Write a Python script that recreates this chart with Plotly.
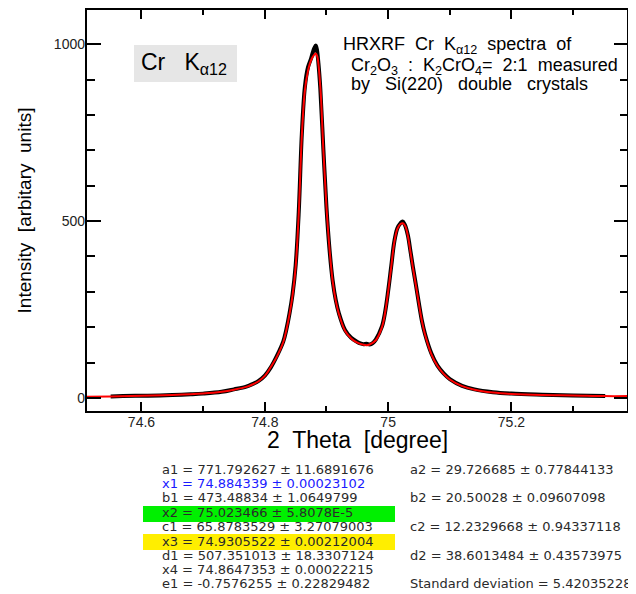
import plotly.graph_objects as go

# ---------------- data ----------------
# measured spectrum (black)
data_x = [74.55, 74.57, 74.60, 74.63, 74.65, 74.68, 74.70, 74.73, 74.75, 74.77,
          74.78, 74.79, 74.80, 74.81, 74.82, 74.83, 74.835, 74.84, 74.845, 74.85,
          74.855, 74.86, 74.865, 74.87, 74.875, 74.878, 74.8805, 74.8826, 74.8845, 74.887,
          74.89, 74.895, 74.90, 74.905, 74.91, 74.915, 74.92, 74.93, 74.94, 74.95,
          74.955, 74.96, 74.965, 74.97, 74.975, 74.98, 74.99, 74.995, 75.00, 75.005,
          75.01, 75.015, 75.02, 75.0235, 75.027, 75.032, 75.036, 75.04, 75.045, 75.05,
          75.055, 75.06, 75.07, 75.08, 75.09, 75.10, 75.12, 75.14, 75.17, 75.20,
          75.25, 75.30, 75.352]
data_y = [4, 5, 6, 7, 8, 10, 12, 17, 24, 32,
          39, 48, 63, 87, 120, 160, 194, 238, 293, 375,
          525, 745, 880, 935, 960, 978, 990, 997, 985, 945,
          875, 702, 538, 418, 332, 277, 240, 192, 170, 158,
          154, 152, 153, 151, 155, 165, 202, 242, 302, 372,
          442, 480, 494, 499, 490, 460, 417, 372, 320, 266,
          216, 179, 126, 91, 69, 53, 34, 24, 16, 12,
          9, 7, 5]

# fitted curve (red)
fit_x = [74.51, 74.55, 74.60, 74.65, 74.70, 74.73, 74.75, 74.77, 74.78, 74.79,
         74.80, 74.81, 74.82, 74.83, 74.835, 74.84, 74.845, 74.85, 74.855, 74.86,
         74.865, 74.87, 74.875, 74.88, 74.8826, 74.885, 74.89, 74.895, 74.90, 74.905,
         74.91, 74.915, 74.92, 74.93, 74.94, 74.95, 74.96, 74.965, 74.97, 74.98,
         74.99, 74.995, 75.00, 75.005, 75.01, 75.015, 75.02, 75.024, 75.028, 75.032,
         75.036, 75.04, 75.045, 75.05, 75.055, 75.06, 75.07, 75.08, 75.09, 75.10,
         75.12, 75.14, 75.17, 75.20, 75.25, 75.30, 75.35, 75.389]
fit_y = [3, 4, 6, 8, 12, 17, 23, 31, 38, 47,
         62, 88, 118, 158, 192, 236, 290, 370, 520, 740,
         870, 925, 955, 970, 974, 966, 880, 700, 540, 420,
         330, 275, 238, 190, 168, 156, 150, 149, 151, 163,
         200, 240, 300, 370, 440, 478, 492, 494, 485, 458,
         415, 370, 318, 265, 215, 178, 124, 90, 68, 52,
         33, 23, 15, 11, 8, 7, 5, 5]

x_range = [74.51, 75.389]
y_range = [-40, 1100]

table_left = [
    "a1 = 771.792627 ± 11.6891676",
    "x1 = 74.884339 ± 0.00023102",
    "b1 = 473.48834 ± 1.0649799",
    "x2 = 75.023466 ± 5.8078E-5",
    "c1 = 65.8783529 ± 3.27079003",
    "x3 = 74.9305522 ± 0.00212004",
    "d1 = 507.351013 ± 18.3307124",
    "x4 = 74.8647353 ± 0.00022215",
    "e1 = -0.7576255 ± 0.22829482",
]
table_right = [
    "a2 = 29.726685 ± 0.77844133",
    "b2 = 20.50028 ± 0.09607098",
    "c2 = 12.2329668 ± 0.94337118",
    "d2 = 38.6013484 ± 0.43573975",
    "Standard deviation = 5.42035228",
]
desc_lines = [
    "HRXRF  Cr  K<sub>α12</sub>  spectra  of",
    "Cr<sub>2</sub>O<sub>3</sub>  :  K<sub>2</sub>CrO<sub>4</sub>=  2:1  measured",
    "by   Si(220)   double   crystals",
]

# ---------------- layout geometry ----------------
# the page body has an 8 px margin, so the figure is drawn 8 px smaller
OFF = 8
W, H = 636 - OFF, 594 - OFF
PL, PR, PT, PB = 86, 628, 9, 412          # plot frame in page pixels
L, R, T, B = PL - OFF, W - (PR - OFF), PT - OFF, H - (PB - OFF)
PW, PH = W - L - R, H - T - B


def px(xp):
    return (xp - OFF - L) / PW


def py(yp):
    return (H - B - (yp - OFF)) / PH


ARIAL = "Liberation Sans, Arial, sans-serif"
TABLE_FONT = "DejaVu Sans, sans-serif"

fig = go.Figure()
fig.add_trace(go.Scatter(x=data_x, y=data_y, mode="lines",
                         line=dict(color="black", width=4, shape="spline"),
                         hoverinfo="skip", showlegend=False))
fig.add_trace(go.Scatter(x=fit_x, y=fit_y, mode="lines",
                         line=dict(color="#ff0000", width=2, shape="spline"),
                         hoverinfo="skip", showlegend=False))
# empty traces so that the tick-only helper axes get their subplots
for k in ["2", "4", "5", "6"]:
    fig.add_trace(go.Scatter(x=[], y=[], xaxis="x" + k, yaxis="y" + k, mode="lines",
                             hoverinfo="skip", showlegend=False))

tickfont = dict(family=ARIAL, size=14, color="#222")
common = dict(showgrid=False, zeroline=False, fixedrange=True, tickwidth=2,
              tickcolor="black", showline=False)
helper = dict(common, showticklabels=False)

layout_axes = dict(
    # main axes: tick labels only (the frame is the shape below)
    xaxis=dict(common, range=x_range, tick0=74.6, dtick=0.2, ticks="",
               tickfont=tickfont, anchor="y"),
    yaxis=dict(common, range=y_range, tick0=0, dtick=500, ticks="",
               tickfont=tickfont, anchor="x", automargin=False,
               title=dict(text="Intensity  [arbitary  units]", standoff=17,
                          font=dict(family=ARIAL, size=19, color="black"))),
    # top edge: major + minor ticks pointing down into the plot
    xaxis2=dict(helper, range=x_range, tick0=74.6, dtick=0.2, ticks="inside",
                ticklen=10, overlaying="x", side="top", anchor="y"),
    xaxis4=dict(helper, range=x_range, tick0=74.5, dtick=0.1, ticks="inside",
                ticklen=6, overlaying="x", side="top", anchor="y"),
    # right edge: major + minor ticks pointing left into the plot
    yaxis2=dict(helper, range=y_range, tick0=0, dtick=500, ticks="inside",
                ticklen=14, overlaying="y", side="right", anchor="x"),
    yaxis4=dict(helper, range=y_range, tick0=0, dtick=100, ticks="inside",
                ticklen=8, overlaying="y", side="right", anchor="x"),
    # bottom edge: free axes placed at the bottom, ticks pointing up into the plot
    xaxis5=dict(helper, range=x_range, tick0=74.6, dtick=0.2, ticks="outside",
                ticklen=10, overlaying="x", side="top", anchor="free", position=0),
    xaxis6=dict(helper, range=x_range, tick0=74.5, dtick=0.1, ticks="outside",
                ticklen=6, overlaying="x", side="top", anchor="free", position=0),
    # left edge: free axes placed at the left, ticks pointing right into the plot
    yaxis5=dict(helper, range=y_range, tick0=0, dtick=500, ticks="outside",
                ticklen=14, overlaying="y", side="right", anchor="free", position=0),
    yaxis6=dict(helper, range=y_range, tick0=0, dtick=100, ticks="outside",
                ticklen=8, overlaying="y", side="right", anchor="free", position=0),
)

# plot frame
shapes = [dict(type="rect", xref="paper", yref="paper", x0=0, x1=1, y0=0, y1=1,
               line=dict(color="black", width=2), fillcolor="rgba(0,0,0,0)",
               layer="above")]

annotations = []


def box(x0, y0, w, h, color):
    annotations.append(dict(xref="paper", yref="paper", x=px(x0), y=py(y0),
                            xanchor="left", yanchor="top", showarrow=False,
                            text=" ", width=w, height=h, bgcolor=color,
                            borderpad=0, borderwidth=0))


def label(xp, yp, txt, size, color="black", family=ARIAL, anchor="left"):
    annotations.append(dict(xref="paper", yref="paper", x=px(xp), y=py(yp),
                            xanchor=anchor, yanchor="middle", showarrow=False,
                            text=txt, font=dict(family=family, size=size, color=color)))


box(134, 45, 102.7, 36.7, "#e6e6e6")        # Cr K box
box(143.3, 506, 251.7, 15.7, "#00f000")     # x2 highlight
box(143.3, 534.3, 251.7, 15.7, "#ffee00")   # x3 highlight

label(139, 64, "Cr   K<sub>α12</sub>", 23)
for txt, (xp0, yp0) in zip(desc_lines, [(341, 46), (349, 66), (349, 84)]):
    label(xp0, yp0, txt, 18)
label(357.5, 440, "2  Theta  [degree]", 23, anchor="center")

row_y_left = [469, 483, 497.5, 512, 526, 541, 555, 569.5, 583.5]
for i, txt in enumerate(table_left):
    label(160, row_y_left[i], txt, 13,
          color="#1a1aff" if i == 1 else "#2a2a2a", family=TABLE_FONT)
row_y_right = [469, 497.5, 526, 555, 583.5]
for i, txt in enumerate(table_right):
    label(408, row_y_right[i], txt, 13, color="#2a2a2a", family=TABLE_FONT)

fig.update_layout(
    width=W, height=H, margin=dict(l=L, r=R, t=T, b=B, pad=0),
    paper_bgcolor="white", plot_bgcolor="white", showlegend=False,
    shapes=shapes, annotations=annotations, **layout_axes,
)

fig.write_html("out.html")
